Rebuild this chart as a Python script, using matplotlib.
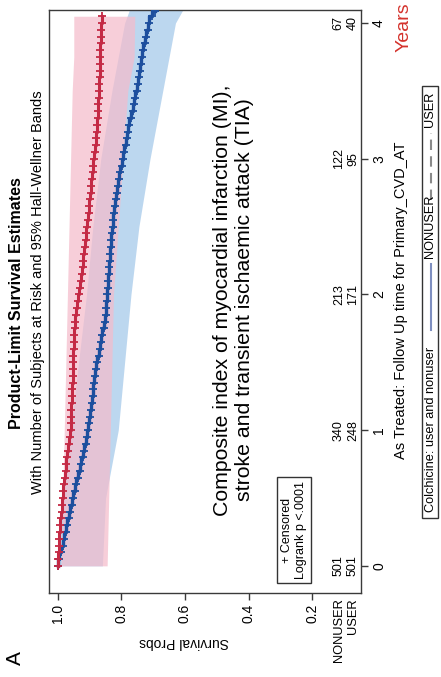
import matplotlib
matplotlib.use('Agg')
import matplotlib.pyplot as plt
import matplotlib.transforms as mtransforms
from matplotlib.lines import Line2D
from matplotlib.patches import Rectangle

plt.rcParams['font.family'] = ['Liberation Sans', 'DejaVu Sans']

# ---------------- data ----------------
time_ticks = [0, 1, 2, 3, 4]
surv_ticks = [1.0, 0.8, 0.6, 0.4, 0.2]
surv_tick_labels = ['1.0', '0.8', '0.6', '0.4', '0.2']
at_risk_nonuser = [501, 340, 213, 122, 67]
at_risk_user = [501, 248, 171, 95, 40]

user_t = [0.00, 0.05, 0.10, 0.15, 0.20, 0.25, 0.30, 0.35, 0.40, 0.45, 0.50, 0.55, 0.60,
          0.65, 0.70, 0.75, 0.80, 0.85, 0.90, 0.95, 1.00, 1.05, 1.10, 1.15, 1.20, 1.25,
          1.30, 1.35, 1.40, 1.45, 1.50, 1.55, 1.60, 1.65, 1.70, 1.75, 1.80, 1.85, 1.90,
          1.95, 2.00, 2.05, 2.10, 2.15, 2.20, 2.25, 2.30, 2.35, 2.40, 2.45, 2.50, 2.55,
          2.60, 2.65, 2.70, 2.75, 2.80, 2.85, 2.90, 2.95, 3.00, 3.05, 3.10, 3.15, 3.20,
          3.25, 3.30, 3.35, 3.40, 3.45, 3.50, 3.55, 3.60, 3.65, 3.70, 3.75, 3.80, 3.85,
          3.90, 3.95, 4.00, 4.05]
user_s = [1.000, 0.999, 0.998, 0.997, 0.995, 0.994, 0.992, 0.990, 0.988, 0.987, 0.985,
          0.983, 0.980, 0.978, 0.975, 0.973, 0.970, 0.968, 0.965, 0.962, 0.960, 0.959,
          0.958, 0.958, 0.957, 0.956, 0.955, 0.954, 0.953, 0.953, 0.952, 0.951, 0.950,
          0.949, 0.948, 0.947, 0.945, 0.943, 0.940, 0.938, 0.935, 0.932, 0.928, 0.925,
          0.922, 0.920, 0.917, 0.915, 0.912, 0.910, 0.908, 0.905, 0.903, 0.901, 0.899,
          0.897, 0.895, 0.893, 0.890, 0.888, 0.885, 0.883, 0.881, 0.879, 0.877, 0.876,
          0.875, 0.874, 0.873, 0.872, 0.871, 0.870, 0.869, 0.869, 0.868, 0.867, 0.866,
          0.865, 0.864, 0.863, 0.862, 0.860]

nonuser_t = [0.00, 0.05, 0.10, 0.15, 0.20, 0.25, 0.30, 0.35, 0.40, 0.45, 0.50, 0.55, 0.60,
             0.65, 0.70, 0.75, 0.80, 0.85, 0.90, 0.95, 1.00, 1.05, 1.10, 1.15, 1.20, 1.25,
             1.30, 1.35, 1.40, 1.45, 1.50, 1.55, 1.60, 1.65, 1.70, 1.75, 1.80, 1.85, 1.90,
             1.95, 2.00, 2.05, 2.10, 2.15, 2.20, 2.25, 2.30, 2.35, 2.40, 2.45, 2.50, 2.55,
             2.60, 2.65, 2.70, 2.75, 2.80, 2.85, 2.90, 2.95, 3.00, 3.05, 3.10, 3.15, 3.20,
             3.25, 3.30, 3.35, 3.40, 3.45, 3.50, 3.55, 3.60, 3.65, 3.70, 3.75, 3.80, 3.85,
             3.90, 3.95, 4.00, 4.05, 4.09]
nonuser_s = [1.000, 0.995, 0.990, 0.985, 0.980, 0.975, 0.970, 0.966, 0.962, 0.957, 0.952,
             0.947, 0.942, 0.937, 0.932, 0.927, 0.922, 0.917, 0.913, 0.909, 0.905, 0.901,
             0.898, 0.895, 0.893, 0.890, 0.888, 0.885, 0.882, 0.879, 0.876, 0.872, 0.868,
             0.864, 0.860, 0.856, 0.853, 0.850, 0.848, 0.846, 0.845, 0.843, 0.842, 0.840,
             0.838, 0.836, 0.835, 0.833, 0.832, 0.830, 0.828, 0.826, 0.823, 0.821, 0.818,
             0.815, 0.812, 0.808, 0.803, 0.799, 0.795, 0.791, 0.787, 0.783, 0.779, 0.775,
             0.770, 0.765, 0.760, 0.756, 0.752, 0.748, 0.745, 0.741, 0.738, 0.735, 0.731,
             0.727, 0.722, 0.717, 0.712, 0.703, 0.695]

user_band_t = [0.0, 0.5, 1.0, 1.5, 2.0, 2.5, 3.0, 3.5, 3.75, 4.05]
user_band_hi = [0.99, 0.985, 0.98, 0.975, 0.97, 0.965, 0.96, 0.955, 0.95, 0.95]
user_band_lo = [0.845, 0.84, 0.835, 0.83, 0.825, 0.81, 0.795, 0.78, 0.76, 0.758]

nonuser_band_t = [0.0, 0.5, 1.0, 1.5, 2.0, 2.5, 3.0, 3.5, 4.0, 4.096]
nonuser_band_hi = [1.0, 0.99, 0.96, 0.935, 0.91, 0.89, 0.865, 0.83, 0.79, 0.775]
nonuser_band_lo = [0.86, 0.85, 0.81, 0.79, 0.77, 0.745, 0.71, 0.67, 0.63, 0.607]

# ---------------- figure ----------------
W, H = 441, 677
fig = plt.figure(figsize=(W / 100, H / 100), dpi=100)


def fx(x):
    return x / W


def fy(y):
    return 1 - y / H


ax = fig.add_axes([fx(49), fy(593), (361 - 49) / W, (593 - 10) / H])
ax.set_xlim(1.028, 0.046)
ax.set_ylim(-0.2, 4.096)

ax.fill_betweenx(nonuser_band_t, nonuser_band_lo, nonuser_band_hi,
                 color='#b9d5ef', lw=0, alpha=0.95, zorder=1)
ax.fill_betweenx(user_band_t, user_band_lo, user_band_hi,
                 color='#f4bccb', lw=0, alpha=0.72, zorder=2)

ax.plot(nonuser_s, nonuser_t, drawstyle='steps-pre', color='#1d4f9e', lw=2.4,
        marker='+', ms=5.5, mew=1.3, zorder=4)
ax.plot(user_s, user_t, drawstyle='steps-pre', color='#c42a45', lw=2.2,
        marker='+', ms=5.5, mew=1.3, zorder=5)

for sp in ax.spines.values():
    sp.set_color('#3a3a3a')
    sp.set_linewidth(1.0)

ax.set_xticks(surv_ticks)
ax.set_xticklabels(surv_tick_labels, rotation=90)
ax.tick_params(axis='x', direction='out', length=5, width=1, labelsize=10, pad=3,
               color='#3a3a3a')
ax.yaxis.tick_right()
ax.set_yticks(time_ticks)
ax.set_yticklabels([str(t) for t in time_ticks], rotation=90, va='center')
ax.tick_params(axis='y', direction='out', length=5, width=1, labelsize=10, pad=3,
               color='#3a3a3a')

trans = mtransforms.blended_transform_factory(ax.transAxes, ax.transData)
for t, n1, n2 in zip(time_ticks, at_risk_nonuser, at_risk_user):
    ax.text(0.929, t, str(n1), transform=trans, rotation=90, ha='center',
            va='center', fontsize=9)
    ax.text(0.974, t, str(n2), transform=trans, rotation=90, ha='center',
            va='center', fontsize=9)

fig.text(fx(339), fy(598), 'NONUSER', rotation=90, ha='center', va='top', fontsize=9.3)
fig.text(fx(353), fy(598), 'USER', rotation=90, ha='center', va='top', fontsize=9.3)

fig.text(fx(184), fy(642), 'Survival Probs', rotation=180, ha='center', va='center',
         fontsize=10)
fig.text(fx(15), fy(658), 'A', rotation=90, ha='center', va='center', fontsize=15)

fig.text(fx(17), fy(303), 'Product-Limit Survival Estimates', rotation=90,
         ha='center', va='center', fontsize=11.5, fontweight='bold')
fig.text(fx(38), fy(292), 'With Number of Subjects at Risk and 95% Hall-Wellner Bands',
         rotation=90, ha='center', va='center', fontsize=10.5)

fig.text(fx(233), fy(300),
         'Composite index of myocardial infarction (MI),\nstroke and transient ischaemic attack (TIA)',
         rotation=90, ha='center', va='center', fontsize=15.3, multialignment='center',
         linespacing=1.2)

fig.text(fx(294), fy(530), '+ Censored\nLogrank p <.0001', rotation=90, ha='center',
         va='center', fontsize=9, multialignment='center',
         bbox=dict(boxstyle='square,pad=0.3', fc='white', ec='#333333', lw=1))

fig.text(fx(401), fy(300), 'As Treated: Follow Up time for Primary_CVD_AT', rotation=90,
         ha='center', va='center', fontsize=10.5)
fig.text(fx(404), fy(27), 'Years', rotation=90, ha='center', va='center', fontsize=14,
         color='#d4322c')

# bottom legend box (rotated)
fig.patches.append(Rectangle((fx(422), fy(518)), (438 - 422) / W, (518 - 86) / H,
                             transform=fig.transFigure, fill=False, ec='#333333', lw=1))
fig.text(fx(430.5), fy(512), 'Colchicine: user and nonuser', rotation=90, ha='center',
         va='bottom', fontsize=9.2)
fig.lines.append(Line2D([fx(430.5), fx(430.5)], [fy(330), fy(264)], transform=fig.transFigure,
                        color='#7f8fc0', lw=1.5))
fig.text(fx(430.5), fy(258), 'NONUSER', rotation=90, ha='center', va='bottom', fontsize=9.2)
fig.lines.append(Line2D([fx(430.5), fx(430.5)], [fy(200), fy(133)], transform=fig.transFigure,
                        color='#8a8a8a', lw=1.5, ls=(0, (5, 3))))
fig.text(fx(430.5), fy(127), 'USER', rotation=90, ha='center', va='bottom', fontsize=9.2)

fig.savefig('out.png', dpi=100)
